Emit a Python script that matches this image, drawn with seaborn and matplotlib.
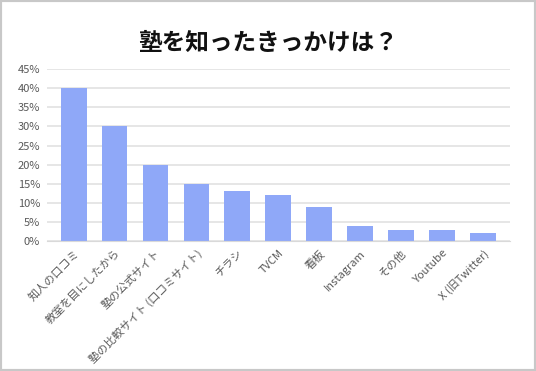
import matplotlib
matplotlib.use("Agg")
import matplotlib.pyplot as plt
import seaborn as sns
import pandas as pd
from matplotlib.patches import Rectangle
from matplotlib.ticker import FuncFormatter

categories = ['知人の口コミ', '教室を目にしたから', '塾の公式サイト', '塾の比較サイト (口コミサイト)',
              'チラシ', 'TVCM', '看板', 'Instagram', 'その他', 'Youtube', 'X (旧Twitter)']
values = [40, 30, 20, 15, 13, 12, 9, 4, 3, 3, 2]
yticks = [0, 5, 10, 15, 20, 25, 30, 35, 40, 45]

sns.set_style('white')
plt.rcParams['font.family'] = ['Noto Sans CJK JP', 'DejaVu Sans']

df = pd.DataFrame({'cat': categories, 'val': values})

fig = plt.figure(figsize=(5.36, 3.71), dpi=100)
ax = fig.add_axes([0.0877, 0.350, 0.863, 0.464])

sns.barplot(data=df, x='cat', y='val', color='#8fa8f8', saturation=1, width=0.63,
            linewidth=0, ax=ax)

ax.set_ylim(0, 45)
ax.set_xlim(-0.65, 10.65)
ax.set_yticks(yticks)
ax.yaxis.set_major_formatter(FuncFormatter(lambda v, p: f'{int(v)}%'))
ax.yaxis.grid(True, color='#e2e2e2', linewidth=1.2)
ax.set_axisbelow(True)
for s in ax.spines.values():
    s.set_visible(False)
ax.spines['bottom'].set_visible(True)
ax.spines['bottom'].set_color('#d9d9d9')
ax.tick_params(axis='both', length=0, labelsize=8, labelcolor='#595959')
ax.tick_params(axis='y', pad=5)
ax.tick_params(axis='x', pad=5)
ax.set_xlabel('')
ax.set_ylabel('')
plt.setp(ax.get_xticklabels(), rotation=45, ha='right', rotation_mode='anchor')

fig.text(0.5, 0.884, '塾を知ったきっかけは？', ha='center', va='center',
         fontsize=17, fontweight='bold', color='#111111')

fig.patches.append(Rectangle((0, 0), 1, 1, transform=fig.transFigure, fill=False,
                             edgecolor='#c8c8c8', linewidth=3))

fig.savefig('out.png', dpi=100)
